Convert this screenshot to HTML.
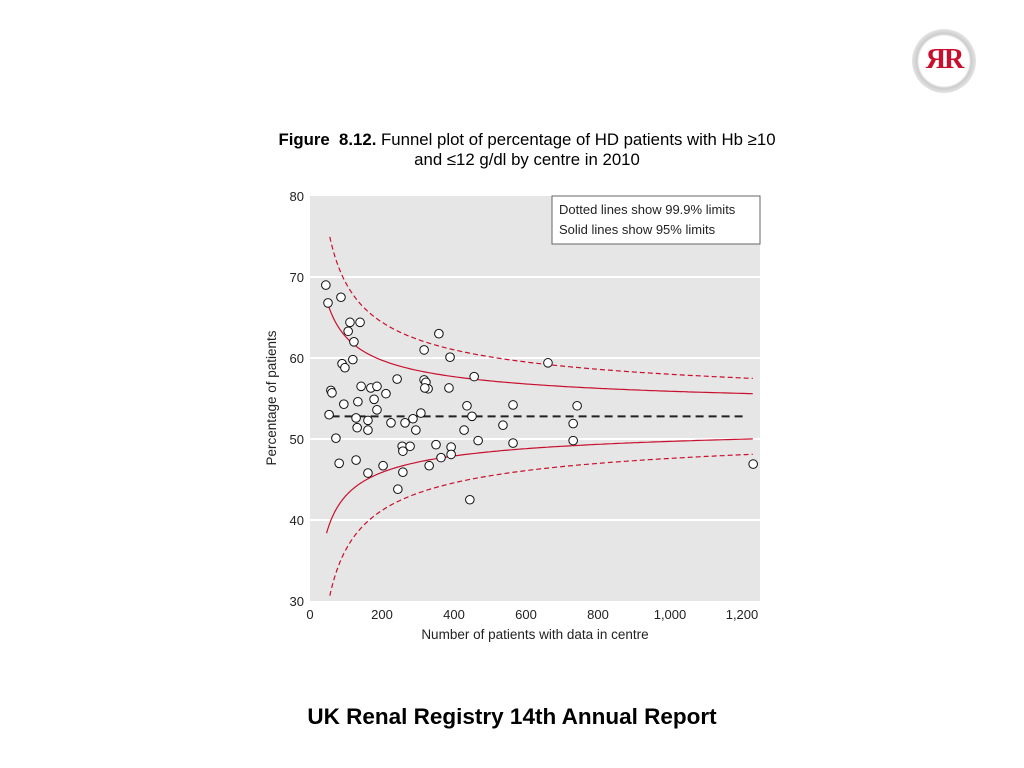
<!DOCTYPE html>
<html><head><meta charset="utf-8"><style>
body{margin:0;width:1024px;height:768px;background:#fff;font-family:"Liberation Sans",sans-serif;overflow:hidden;position:relative}
.t{position:absolute;text-align:center}
</style></head><body>
<div style="position:absolute;left:912px;top:29px;width:64px;height:64px;border-radius:50%;background:radial-gradient(circle,#fff 55%,#ccc 60%,#eee 75%,#aaa 100%);"><div style="position:absolute;left:0;right:0;top:15px;text-align:center;color:#c8102e;font:bold 28px 'Liberation Serif',serif;letter-spacing:-2px">ЯR</div></div>
<div class="t" style="left:212px;width:630px;top:130px;font-size:16.8px;line-height:20px"><b>Figure&nbsp; 8.12.</b> Funnel plot of percentage of HD patients with Hb ≥10<br>and ≤12 g/dl by centre in 2010</div>
<div class="t" style="left:162px;width:700px;top:704px;font-size:22.5px;font-weight:bold">UK Renal Registry 14th Annual Report</div>
<svg id="c" width="1024" height="768" style="position:absolute;left:0;top:0"></svg>
<script>
const ns=[44,50,86,111,139,106,122,119,89,97,58,61,94,133,142,169,186,178,186,211,242,53,128,131,161,161,225,72,81,128,161,203,244,258,256,258,278,264,286,294,308,317,358,389,317,322,328,319,386,350,392,392,364,331,428,436,450,467,456,444,661,536,564,564,731,742,731,1231];
const pcts=[69.0,66.8,67.5,64.4,64.4,63.3,62.0,59.8,59.3,58.8,56.0,55.7,54.3,54.6,56.5,56.3,56.5,54.9,53.6,55.6,57.4,53.0,52.6,51.4,52.3,51.1,52.0,50.1,47.0,47.4,45.8,46.7,43.8,45.9,49.1,48.5,49.1,52.0,52.5,51.1,53.2,61.0,63.0,60.1,57.3,57.0,56.2,56.3,56.3,49.3,49.0,48.1,47.7,46.7,51.1,54.1,52.8,49.8,57.7,42.5,59.4,51.7,54.2,49.5,51.9,54.1,49.8,46.9];
const target=52.8;
const xTicks=[0,200,400,600,800,1000,1200];
const xTickLabels=["0","200","400","600","800","1,000","1,200"];
const yTicks=[30,40,50,60,70,80];
const svg=document.getElementById('c');const S='http://www.w3.org/2000/svg';
const X=v=>310+v*0.36, Y=v=>601-(v-30)*8.1;
function mk(t,a,p){const e=document.createElementNS(S,t);for(const k in a)e.setAttribute(k,a[k]);(p||svg).appendChild(e);return e;}
const bg=mk('rect',{x:310,y:196,width:450,height:405,fill:'#e6e6e6'});


const cp=mk('clipPath',{id:'cp'});mk('rect',{x:310,y:196,width:450,height:405},cp);
yTicks.forEach(v=>{if(v>30&&v<80){const l=mk('line',{x1:310,x2:760,y1:Y(v),y2:Y(v),stroke:'#fff','stroke-width':2});}
const t=mk('text',{x:304,y:Y(v)+5,'text-anchor':'end','font-size':13,fill:'#222'});t.textContent=v;

});
xTicks.forEach((v,i)=>{const t=mk('text',{x:X(v),y:619,'text-anchor':'middle','font-size':13,fill:'#222'});t.textContent=xTickLabels[i];

});
const xt=mk('text',{x:535,y:639,'text-anchor':'middle','font-size':13.5,fill:'#222'});xt.textContent='Number of patients with data in centre';


const yt=mk('text',{x:0,y:0,'text-anchor':'middle','font-size':13.5,fill:'#222',transform:'translate(276,398) rotate(-90)'});yt.textContent='Percentage of patients';


const p=target/100;
[[1.96,'',46],[3.29,'5,3',55]].forEach(([z,d,n0])=>[1,-1].forEach(s=>{let pts=[];for(let n=n0;n<=1235;n+=(n<200?1:10)){pts.push(X(n).toFixed(1)+','+Y(100*(p+s*z*Math.sqrt(p*(1-p)/n))).toFixed(1));}
const l=mk('polyline',{points:pts.join(' '),fill:'none',stroke:'#c8102e','stroke-width':1.2,'stroke-dasharray':d,'clip-path':'url(#cp)'});

}));
const tl=mk('line',{x1:X(60),x2:X(1210),y1:Y(target),y2:Y(target),stroke:'#222','stroke-width':2,'stroke-dasharray':'8,5'});


ns.forEach((n,i)=>{const c=mk('circle',{cx:X(n),cy:Y(pcts[i]),r:4.3,fill:'#fff',stroke:'#111','stroke-width':1});

});
const lg=mk('rect',{x:552,y:196,width:208,height:48,fill:'#fff',stroke:'#666'});


['Dotted lines show 99.9% limits','Solid lines show 95% limits'].forEach((s,i)=>{const t=mk('text',{x:559,y:214+i*20,'font-size':13,fill:'#222'});t.textContent=s;

});
</script>
</body></html>
